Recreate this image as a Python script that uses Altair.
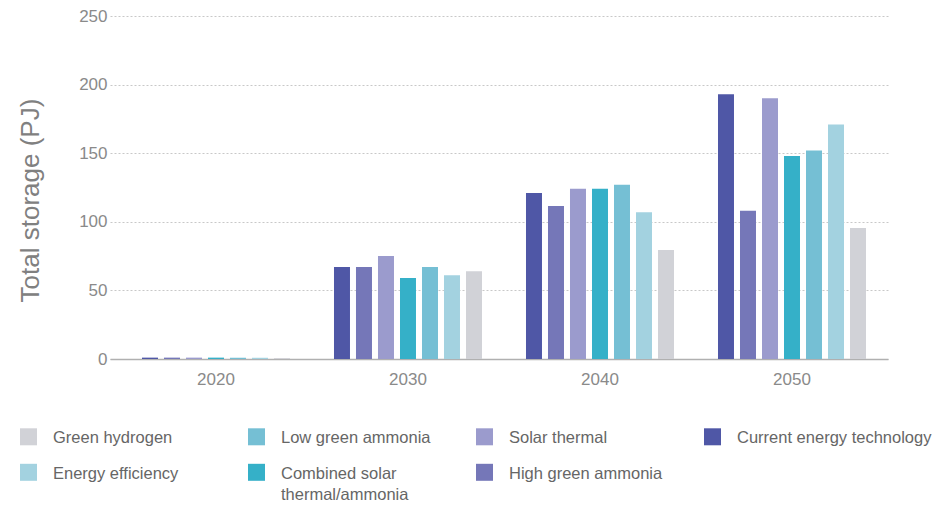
import altair as alt
import pandas as pd

years = ["2020", "2030", "2040", "2050"]
scenarios = [
    "Current energy technology",
    "High green ammonia",
    "Solar thermal",
    "Combined solar thermal/ammonia",
    "Low green ammonia",
    "Energy efficiency",
    "Green hydrogen",
]
# legend entries are laid out column by column (2 rows x 4 columns)
legend_order = [
    "Green hydrogen",
    "Energy efficiency",
    "Low green ammonia",
    "Combined solar thermal/ammonia",
    "Solar thermal",
    "High green ammonia",
    "Current energy technology",
]
legend_colors = ["#d1d2d7", "#a3d2e0", "#75bfd4", "#35b0c8", "#9b9bcd", "#7577b8", "#4f57a6"]

values_2020 = [1.0, 1.0, 1.0, 1.0, 1.0, 0.9, 0.7]
values_2030 = [67, 67, 75, 59, 67, 61, 64]
values_2040 = [121, 111.5, 124, 124, 127, 107, 79.5]
values_2050 = [193, 108, 190, 148, 152, 171, 95.5]

rows = []
for yr, vals in zip(years, [values_2020, values_2030, values_2040, values_2050]):
    for s, v in zip(scenarios, vals):
        rows.append({"year": yr, "scenario": s, "value": v})
df = pd.DataFrame(rows)

FONT = "Liberation Sans"

chart = (
    alt.Chart(df)
    .mark_bar()
    .encode(
        x=alt.X(
            "year:N",
            sort=years,
            scale=alt.Scale(paddingInner=0, paddingOuter=0.026, align=1),
            axis=alt.Axis(
                title=None,
                labelAngle=0,
                ticks=False,
                domainColor="#b0b0b0",
                domainWidth=1.5,
                labelFontSize=17,
                labelColor="#8a8a8a",
                labelPadding=12,
                grid=False,
            ),
        ),
        xOffset=alt.XOffset(
            "scenario:N",
            scale=alt.Scale(domain=scenarios, paddingInner=0.273, paddingOuter=1.0),
        ),
        y=alt.Y(
            "value:Q",
            scale=alt.Scale(domain=[0, 250]),
            axis=alt.Axis(
                values=[0, 50, 100, 150, 200, 250],
                title="Total storage (PJ)",
                titleFontSize=26,
                titleFontWeight="normal",
                titleColor="#808080",
                titleX=-80,
                titleY=184,
                titleAlign="center",
                titleBaseline="middle",
                titleAngle=270,
                domain=False,
                ticks=False,
                grid=True,
                gridDash=[2, 2],
                gridColor="#c8c8c8",
                gridWidth=1,
                labelPadding=3,
                labelFontSize=17,
                labelColor="#8a8a8a",
            ),
        ),
        color=alt.Color(
            "scenario:N",
            scale=alt.Scale(domain=legend_order, range=legend_colors),
            legend=alt.Legend(
                title=None,
                orient="none",
                legendX=-90,
                legendY=395,
                columns=4,
                gridAlign="all",
                columnPadding=0,
                rowPadding=-6,
                padding=0,
                symbolType="M-1,-0.2H1V1.8H-1Z",
                symbolSize=289,
                symbolStrokeWidth=0,
                symbolOpacity=1,
                labelFontSize=16.5,
                labelColor="#666666",
                labelOffset=16,
                labelLimit=300,
                labelBaseline="top",
                labelExpr="datum.label == 'Combined solar thermal/ammonia' ? ['Combined solar', 'thermal/ammonia'] : datum.label",
            ),
        ),
    )
    .properties(
        width=778,
        height=343,
        padding={"left": 110, "top": 16, "right": 59, "bottom": 146},
        autosize=alt.AutoSizeParams(type="none"),
    )
    .configure(font=FONT, style={"guide-label": {"lineHeight": 21}})
    .configure_view(strokeWidth=0)
)

chart.save("out.html", embed_options={"renderer": "svg", "actions": False})
